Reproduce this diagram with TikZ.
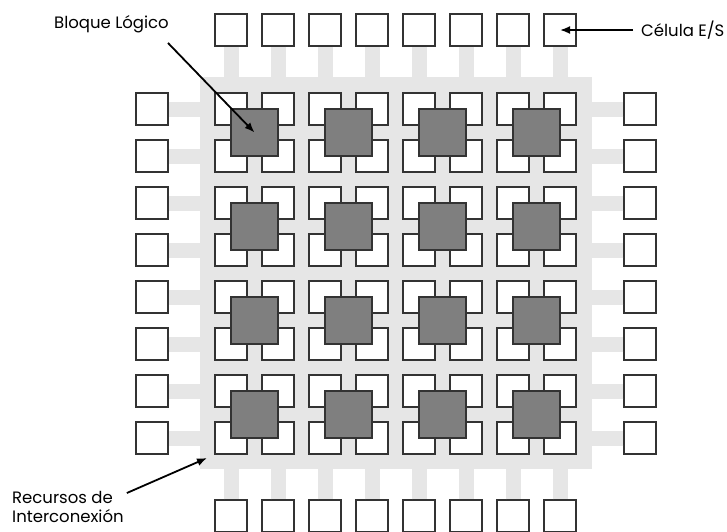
\documentclass[tikz,border=0pt]{standalone}
\usepackage{fontspec}
\setmainfont{Poppins}
\usetikzlibrary{arrows.meta}
\definecolor{routing}{HTML}{E6E6E6}
\definecolor{clbfill}{HTML}{7F7F7F}
\definecolor{edge}{HTML}{333333}
\tikzset{
  cell/.style={draw=edge, fill=white, line width=1.5pt, minimum size=32pt, inner sep=0pt},
  clb/.style={draw=edge, fill=clbfill, line width=1.5pt, minimum size=47pt, inner sep=0pt},
  stub/.style={draw=routing, line width=15pt},
  lbl/.style={font=\fontsize{16.5}{19}\selectfont, inner sep=0pt},
}
\begin{document}
\begin{tikzpicture}[x=1pt, y=-1pt, >={Latex[length=10pt,width=8pt]}]
\useasboundingbox (0,0) rectangle (727,531);
% interconnect
\node[fill=routing, minimum size=392pt, inner sep=0pt] (core) at (396,273) {};
% cells of the array
\foreach \i in {0,...,7}
  \foreach \j in {0,...,7}
    \node[cell] (c\i\j) at ({231+47*\i},{109+47*\j}) {};
% logic blocks
\foreach \i in {0,...,3}
  \foreach \j in {0,...,3}
    \node[clb] (b\i\j) at ({254.5+94*\i},{132.5+94*\j}) {};
% I/O cells
\foreach \i in {0,...,7} {
  \node[cell] (top\i) at ({231+47*\i},30) {};
  \node[cell] (bot\i) at ({231+47*\i},516) {};
  \node[cell] (lft\i) at (152,{109+47*\i}) {};
  \node[cell] (rgt\i) at (640,{109+47*\i}) {};
  \draw[stub] (top\i) -- (top\i |- core.north);
  \draw[stub] (bot\i) -- (bot\i |- core.south);
  \draw[stub] (lft\i) -- (lft\i -| core.west);
  \draw[stub] (rgt\i) -- (rgt\i -| core.east);
}
\node[lbl] (lblclb) at (111.5,24) {Bloque Lógico};
\node[lbl, anchor=west] (lblio) at (641,30) {Célula E/S};
\node[lbl, anchor=north west, align=left] (lblnet) at (12,491) {Recursos de\\Interconexión};
\coordinate (netpt) at (207,458);
\draw[->, line width=1.8pt] ([shift={(-1,10)}]lblclb.south east) -- (b00.center);
\draw[->, line width=1.8pt] ([xshift=-8pt]lblio.west) -- (top7.center);
\draw[->, line width=1.8pt] ([shift={(3,2)}]lblnet.north east) -- (netpt);
\end{tikzpicture}
\end{document}
